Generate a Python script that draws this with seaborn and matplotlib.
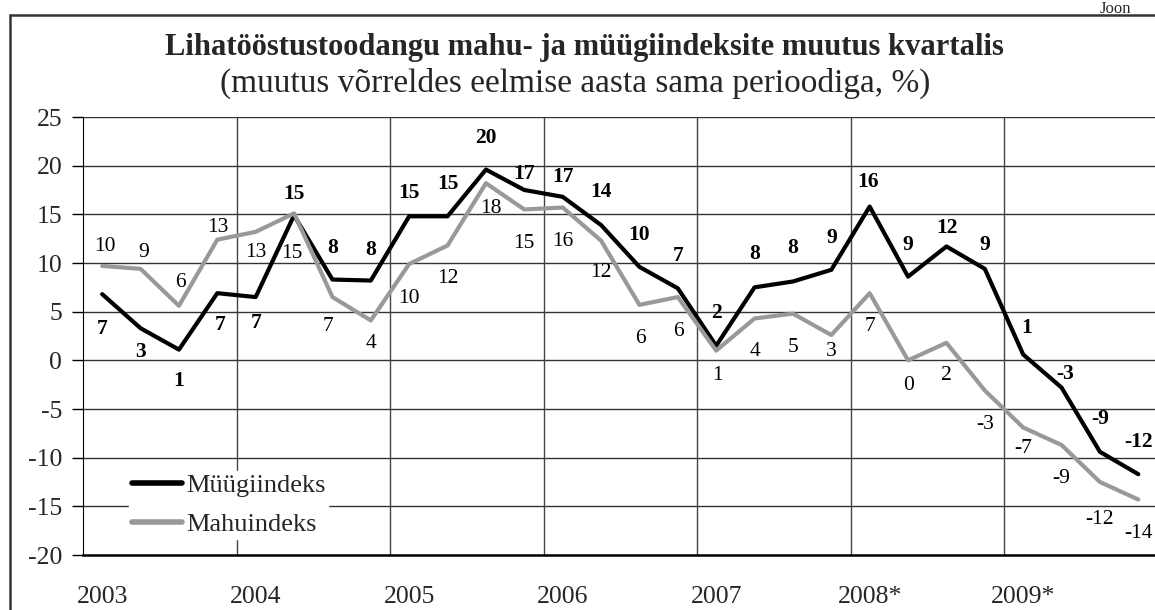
import matplotlib
matplotlib.use("Agg")
import matplotlib.pyplot as plt
import numpy as np
import pandas as pd
import seaborn as sns
from matplotlib.patches import Rectangle

years = ["2003", "2004", "2005", "2006", "2007", "2008*", "2009*"]

# Müügiindeks (black), quarterly change vs same period of previous year, %
sales = [6.8, 3.3, 1.1, 6.9, 6.5, 14.9, 8.3, 8.2,
         14.8, 14.8, 19.6, 17.5, 16.8, 13.9, 9.6, 7.4,
         1.5, 7.5, 8.1, 9.3, 15.8, 8.6, 11.7, 9.4,
         0.6, -2.8, -9.4, -11.7]
sales_labels = ["7", "3", "1", "7", "7", "15", "8", "8",
                "15", "15", "20", "17", "17", "14", "10", "7",
                "2", "8", "8", "9", "16", "9", "12", "9",
                "1", "-3", "-9", "-12"]

# Mahuindeks (grey)
volume = [9.7, 9.4, 5.6, 12.4, 13.2, 15.1, 6.5, 4.1,
          9.9, 11.8, 18.2, 15.5, 15.7, 12.3, 5.7, 6.5,
          1.0, 4.3, 4.8, 2.6, 6.9, 0.0, 1.8, -3.1,
          -6.9, -8.7, -12.5, -14.3]
volume_labels = ["10", "9", "6", "13", "13", "15", "7", "4",
                 "10", "12", "18", "15", "16", "12", "6", "6",
                 "1", "4", "5", "3", "7", "0", "2", "-3",
                 "-7", "-9", "-12", "-14"]

# label offsets in pixels (dx, dy; dy positive = up)
sales_off = [(0, -35), (0, -24), (0, -31), (3, -32), (0, -26), (0, 21), (0, 32), (0, 31),
             (0, 23), (0, 32), (0, 32), (0, 16), (0, 20), (0, 33), (0, 32), (0, 32),
             (0, 33), (0, 33), (0, 33), (0, 32), (-2, 25), (0, 32), (0, 18), (0, 24),
             (3, 26), (4, 14), (0, 33), (0, 32)]
volume_off = [(3, 19), (3, 16), (1, 23), (1, 12), (0, -21), (-2, -40), (-4, -29), (0, -23),
              (0, -35), (0, -33), (5, -25), (0, -34), (0, -34), (0, -32), (1, -34), (1, -34),
              (1, -25), (0, -33), (0, -34), (0, -16), (0, -33), (0, -25), (0, -33), (0, -34),
              (0, -21), (0, -33), (0, -38), (0, -34)]

n = len(sales)
pos = np.arange(n)
df = pd.DataFrame({
    "pos": np.concatenate([pos, pos]),
    "value": sales + volume,
    "series": ["Müügiindeks"] * n + ["Mahuindeks"] * n,
})

sns.set_style("white")
plt.rcParams["font.family"] = ["Liberation Serif", "DejaVu Serif"]
plt.rcParams["axes.unicode_minus"] = False

fig = plt.figure(figsize=(11.55, 6.10), dpi=100)
ax = fig.add_axes([83 / 1155, 55 / 610, 1074.5 / 1155, 438 / 610])

sns.lineplot(data=df, x="pos", y="value", hue="series",
             palette={"Müügiindeks": "#000000", "Mahuindeks": "#999999"},
             linewidth=3.0, ax=ax, legend=True)

for i in range(n):
    ax.annotate(sales_labels[i], (pos[i], sales[i]), xytext=sales_off[i],
                textcoords="offset pixels", ha="center", va="center",
                fontsize=15.5, fontweight="bold", color="black")
    ax.annotate(volume_labels[i], (pos[i], volume[i]), xytext=volume_off[i],
                textcoords="offset pixels", ha="center", va="center",
                fontsize=15.5, color="black")

ax.set_xlim(-0.5, n - 0.5)
ax.set_ylim(-20, 25)
ax.set_yticks(range(-20, 30, 5))
ax.set_xticks(np.arange(0, n, 4))
ax.set_xticklabels(years)
ax.set_xlabel("")
ax.set_ylabel("")
ax.tick_params(axis="y", length=8, width=1, color="black", labelsize=18.5, pad=7, left=True)
ax.tick_params(axis="x", length=0, labelsize=18.5, pad=22)

for y in range(-15, 30, 5):
    ax.axhline(y, color="#333333", lw=1, zorder=0)
for b in np.arange(3.5, n, 4):
    ax.axvline(b, color="#444444", lw=1, zorder=0)

for s in ["top", "right"]:
    ax.spines[s].set_visible(False)
ax.spines["left"].set_color("black")
ax.spines["bottom"].set_color("black")
ax.spines["bottom"].set_linewidth(1.8)

leg = ax.legend(loc="lower left", bbox_to_anchor=(33 / 1074.5, 3 / 438),
                frameon=True, fontsize=19, handlelength=1.9, handletextpad=0.15,
                labelspacing=0.6, borderpad=0.1)
leg.get_frame().set_edgecolor("white")
leg.get_frame().set_facecolor("white")
leg.get_frame().set_alpha(1)
leg.get_frame().set_boxstyle("square", pad=0)
for line in leg.get_lines():
    line.set_linewidth(4)

fig.text(0.5 * (162 + 1007) / 1155, 1 - 47 / 610,
         "Lihatööstustoodangu mahu- ja müügiindeksite muutus kvartalis",
         ha="center", va="center", fontsize=22, fontweight="bold")
fig.text(0.5 * (218 + 932) / 1155, 1 - 83 / 610,
         "(muutus võrreldes eelmise aasta sama perioodiga, %)",
         ha="center", va="center", fontsize=24)
fig.text(1100 / 1155, 1 - 1 / 610, "Joon", ha="left", va="top", fontsize=12)

fig.patches.append(Rectangle((10 / 1155, -0.1), 1.2, 1 - 15 / 610 + 0.1,
                             transform=fig.transFigure, fill=False,
                             edgecolor="#333333", lw=1.8))

fig.savefig("out.png", dpi=100)
